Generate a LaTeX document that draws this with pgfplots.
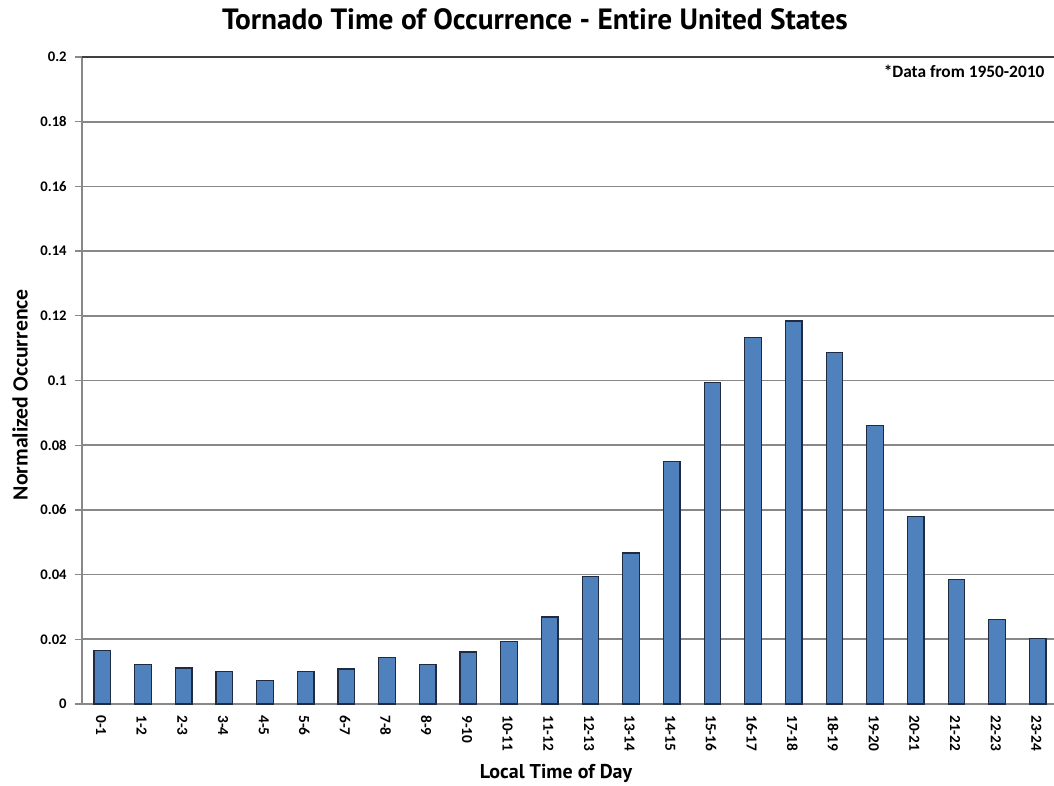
\documentclass[border=0pt]{standalone}
\usepackage{fontspec}
\setmainfont{Carlito}
\newfontfamily\titlefont{PT Sans}
\usepackage{pgfplots}
\pgfplotsset{compat=1.18}
\definecolor{barblue}{HTML}{4F81BD}
\definecolor{baredge}{HTML}{1E2B40}
\definecolor{gridgray}{HTML}{888888}
\begin{document}
\begin{tikzpicture}
\useasboundingbox (0,0) rectangle (790.5pt,589.5pt);
\begin{axis}[
  at={(61.5pt,61.5pt)}, anchor=south west,
  scale only axis, width=729pt, height=485.25pt,
  xmin=-0.5, xmax=23.4, ymin=0, ymax=0.2,
  ybar, bar width=12.4pt,
  axis lines*=left,
  axis line style={gridgray, line width=1.1pt},
  ytick={0,0.02,...,0.2},
  ymajorgrids, major grid style={gridgray, line width=1.3pt},
  xtick={0,...,23},
  xticklabels={0-1,1-2,2-3,3-4,4-5,5-6,6-7,7-8,8-9,9-10,10-11,11-12,12-13,13-14,14-15,15-16,16-17,17-18,18-19,19-20,20-21,21-22,22-23,23-24},
  extra x ticks={0.5,1.5,...,22.5},
  extra x tick labels={},
  extra x tick style={major tick length=5pt, tick style={gridgray, line width=1pt}, tickpos=left, grid=none},
  xtick style={draw=none},
  ytick style={gridgray, line width=1pt},
  major tick length=5pt,
  tick align=outside,
  x tick label style={rotate=-90, anchor=west, font=\bfseries\fontsize{11.5}{13}\selectfont, yshift=-1pt},
  y tick label style={font=\bfseries\fontsize{11}{13}\selectfont, xshift=-3pt},
  /pgf/number format/assume math mode=true,
  yticklabel style={/pgf/number format/fixed, /pgf/number format/precision=2},
  title={\titlefont\bfseries\fontsize{22}{26}\selectfont Tornado Time of Occurrence - Entire United States},
  title style={at={(0.466,1)}, anchor=center, yshift=22pt},
  xlabel={\titlefont\bfseries\fontsize{15}{18}\selectfont Local Time of Day},
  xlabel style={at={(0.4877,0)}, anchor=center, yshift=-52pt},
  ylabel={\bfseries\fontsize{16.3}{19}\selectfont Normalized Occurrence},
  ylabel style={at={(0,0.478)}, anchor=center, yshift=46.5pt},
  clip=false,
]
\addplot[fill=barblue, draw=baredge, line width=0.9pt] coordinates {
(0,0.0165) (1,0.0122) (2,0.0111) (3,0.0101) (4,0.0073) (5,0.0101)
(6,0.0108) (7,0.0143) (8,0.0122) (9,0.0161) (10,0.0194) (11,0.0269)
(12,0.0395) (13,0.0467) (14,0.0750) (15,0.0993) (16,0.1132) (17,0.1184)
(18,0.1087) (19,0.0860) (20,0.0579) (21,0.0384) (22,0.0260) (23,0.0202)
};
\draw[black!75, line width=1.4pt] (rel axis cs:0,1) -- (rel axis cs:1,1);
\node[anchor=north east, font=\bfseries\fontsize{13}{15}\selectfont, inner sep=0pt] at ([xshift=-7pt,yshift=-6pt]rel axis cs:1,1) {*Data from 1950-2010};
\end{axis}
\end{tikzpicture}
\end{document}
